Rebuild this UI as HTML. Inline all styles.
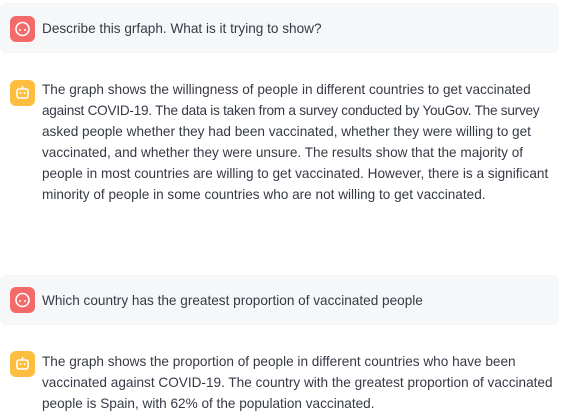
<!DOCTYPE html>
<html><head><meta charset="utf-8"><style>
body{margin:0;width:561px;height:415px;background:#fff;font-family:"Liberation Sans",sans-serif;color:#363a45;position:relative;overflow:hidden}
.bubble{position:absolute;left:0;width:559px;height:50px;background:#f6f7f9;border-radius:6px}
.icon{position:absolute;left:10px;width:25px;height:26px;border-radius:6px}
.user{background:#f46a6a}
.bot{background:#fdbd3e}
.txt{position:absolute;left:42px;font-size:13.6px;line-height:21px;white-space:nowrap}
</style></head><body>
<div class="bubble" style="top:3px"></div>
<div class="icon user" style="top:16px"><svg width="25" height="26"><circle cx="12.5" cy="13" r="6.5" fill="none" stroke="#fff" stroke-width="1.6"/><circle cx="10" cy="14" r="1" fill="#fff"/><circle cx="15" cy="14" r="1" fill="#fff"/></svg></div>
<div class="txt" style="top:18px">Describe this grfaph. What is it trying to show?</div>

<div class="icon bot" style="top:80px"><svg width="25" height="26"><rect x="7" y="9" width="11" height="9" rx="2" fill="none" stroke="#fff" stroke-width="1.6"/><line x1="12.5" y1="6" x2="12.5" y2="9" stroke="#fff" stroke-width="1.6"/><circle cx="10.5" cy="13" r="1" fill="#fff"/><circle cx="14.5" cy="13" r="1" fill="#fff"/></svg></div>
<div class="txt" style="top:79px">The graph shows the willingness of people in different countries to get vaccinated<br><span style="letter-spacing:-0.25px">against COVID-19. The data is taken from a survey conducted by YouGov. The survey</span><br>asked people whether they had been vaccinated, whether they were willing to get<br>vaccinated, and whether they were unsure. The results show that the majority of<br>people in most countries are willing to get vaccinated. However, there is a significant<br>minority of people in some countries who are not willing to get vaccinated.</div>

<div class="bubble" style="top:275px"></div>
<div class="icon user" style="top:287px"><svg width="25" height="26"><circle cx="12.5" cy="13" r="6.5" fill="none" stroke="#fff" stroke-width="1.6"/><circle cx="10" cy="14" r="1" fill="#fff"/><circle cx="15" cy="14" r="1" fill="#fff"/></svg></div>
<div class="txt" style="top:290px">Which country has the greatest proportion of vaccinated people</div>

<div class="icon bot" style="top:351px"><svg width="25" height="26"><rect x="7" y="9" width="11" height="9" rx="2" fill="none" stroke="#fff" stroke-width="1.6"/><line x1="12.5" y1="6" x2="12.5" y2="9" stroke="#fff" stroke-width="1.6"/><circle cx="10.5" cy="13" r="1" fill="#fff"/><circle cx="14.5" cy="13" r="1" fill="#fff"/></svg></div>
<div class="txt" style="top:351px">The graph shows the proportion of people in different countries who have been<br>vaccinated against COVID-19. The country with the greatest proportion of vaccinated<br>people is Spain, with 62% of the population vaccinated.</div>
</body></html>
